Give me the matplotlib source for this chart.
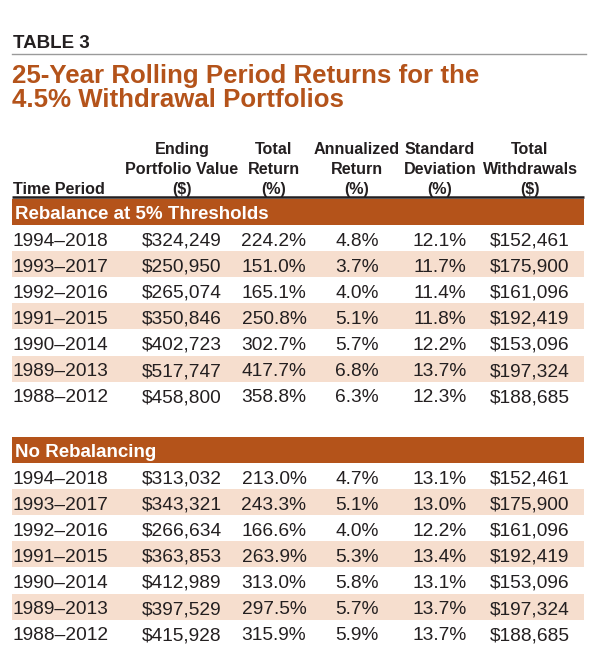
import matplotlib
matplotlib.use("Agg")
import matplotlib.pyplot as plt
from matplotlib import font_manager
from matplotlib.patches import Rectangle

# Table content
table_label = "TABLE 3"
title_lines = ["25-Year Rolling Period Returns for the", "4.5% Withdrawal Portfolios"]
col_headers = [
    ["", "", "Time Period"],
    ["Ending", "Portfolio Value", "($)"],
    ["Total", "Return", "(%)"],
    ["Annualized", "Return", "(%)"],
    ["Standard", "Deviation", "(%)"],
    ["Total", "Withdrawals", "($)"],
]

periods = ["1994\u20132018", "1993\u20132017", "1992\u20132016", "1991\u20132015",
           "1990\u20132014", "1989\u20132013", "1988\u20132012"]

sections = ["Rebalance at 5% Thresholds", "No Rebalancing"]

ending_value = [
    ["$324,249", "$250,950", "$265,074", "$350,846", "$402,723", "$517,747", "$458,800"],
    ["$313,032", "$343,321", "$266,634", "$363,853", "$412,989", "$397,529", "$415,928"],
]
total_return = [
    ["224.2%", "151.0%", "165.1%", "250.8%", "302.7%", "417.7%", "358.8%"],
    ["213.0%", "243.3%", "166.6%", "263.9%", "313.0%", "297.5%", "315.9%"],
]
annualized = [
    ["4.8%", "3.7%", "4.0%", "5.1%", "5.7%", "6.8%", "6.3%"],
    ["4.7%", "5.1%", "4.0%", "5.3%", "5.8%", "5.7%", "5.9%"],
]
std_dev = [
    ["12.1%", "11.7%", "11.4%", "11.8%", "12.2%", "13.7%", "12.3%"],
    ["13.1%", "13.0%", "12.2%", "13.4%", "13.1%", "13.7%", "13.7%"],
]
withdrawals = [
    ["$152,461", "$175,900", "$161,096", "$192,419", "$153,096", "$197,324", "$188,685"],
    ["$152,461", "$175,900", "$161,096", "$192,419", "$153,096", "$197,324", "$188,685"],
]

# colours
orange = "#B4531A"
peach = "#F6DECE"
ink = "#231F20"

installed = {f.name for f in font_manager.fontManager.ttflist}
if "Liberation Sans Narrow" in installed:
    narrow, nscale = "Liberation Sans Narrow", 1.0
else:
    narrow, nscale = "Liberation Sans", 0.86
wide = "Liberation Sans" if "Liberation Sans" in installed else "DejaVu Sans"

fig = plt.figure(figsize=(6.0, 6.61), dpi=100)
ax = fig.add_axes([0, 0, 1, 1])
ax.set_xlim(0, 600)
ax.set_ylim(661, 0)
ax.axis("off")

left, right = 12, 584

# header block
ax.text(13, 48, table_label, fontsize=13.5, fontweight="bold", color=ink, family=wide)
ax.plot([left, right + 2], [54, 54], color="#9A9A9A", lw=1.0)
for i, line in enumerate(title_lines):
    ax.text(12, 83 + 24 * i, line, fontsize=18.6, fontweight="bold", color=orange, family=wide)

col_x = [13, 182, 274, 357, 440, 530]
head_y = [154, 174, 194]
for j, lines in enumerate(col_headers):
    for k, txt in enumerate(lines):
        if not txt:
            continue
        ha = "left" if j == 0 else "center"
        ax.text(col_x[j], head_y[k], txt, fontsize=13.5 * nscale, fontweight="bold",
                color=ink, family=narrow, ha=ha)

ax.plot([left, right], [197, 197], color=ink, lw=1.8, solid_capstyle="butt")

band_top = [199, 437]
row_h = 26.1
for s, name in enumerate(sections):
    top = band_top[s]
    ax.add_patch(Rectangle((left, top), right - left, 26, color=orange, lw=0))
    ax.text(15, top + 20, name, fontsize=15.7 * nscale, fontweight="bold", color="white", family=narrow)
    cols = [periods, ending_value[s], total_return[s], annualized[s], std_dev[s], withdrawals[s]]
    for i in range(len(periods)):
        y0 = top + 26 + row_h * i
        if i % 2 == 1:
            ax.add_patch(Rectangle((left, y0), right - left, row_h, color=peach, lw=0))
        for j, col in enumerate(cols):
            ha = "left" if j == 0 else "center"
            ax.text(col_x[j], y0 + row_h / 2 + 7.5, col[i], fontsize=16 * nscale,
                    color=ink, family=narrow, ha=ha)

fig.savefig("out.png", dpi=100)
